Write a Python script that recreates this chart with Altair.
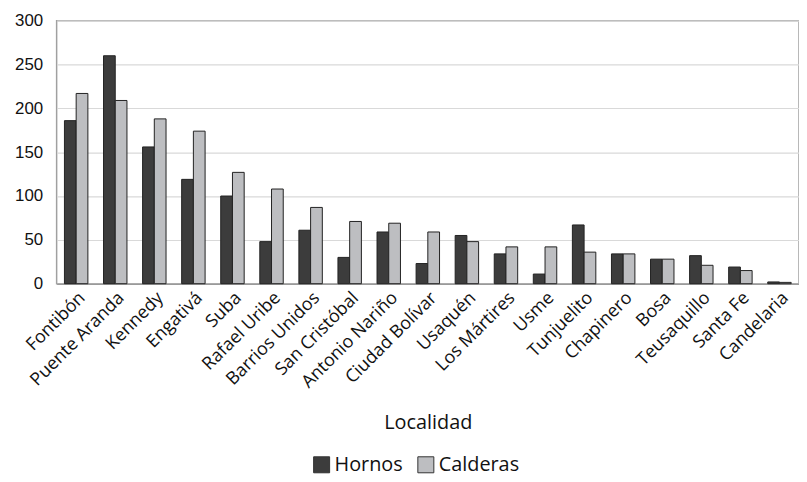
import altair as alt
import pandas as pd

categories = ["Fontibón", "Puente Aranda", "Kennedy", "Engativá", "Suba", "Rafael Uribe",
              "Barrios Unidos", "San Cristóbal", "Antonio Nariño", "Ciudad Bolívar", "Usaquén",
              "Los Mártires", "Usme", "Tunjuelito", "Chapinero", "Bosa", "Teusaquillo",
              "Santa Fe", "Candelaria"]
hornos = [186, 260, 156, 119, 100, 48, 61, 30, 59, 23, 55, 34, 11, 67, 34, 28, 32, 19, 2]
calderas = [217, 209, 188, 174, 127, 108, 87, 71, 69, 59, 48, 42, 42, 36, 34, 28, 21, 15, 1.5]
series = ["Hornos", "Calderas"]
y_ticks = [0, 50, 100, 150, 200, 250, 300]

rows = []
for c, h, k in zip(categories, hornos, calderas):
    rows.append({"Localidad": c, "Tipo": series[0], "Valor": h})
    rows.append({"Localidad": c, "Tipo": series[1], "Valor": k})
df = pd.DataFrame(rows)

chart = alt.Chart(df).mark_bar(stroke="#222222", strokeWidth=1).encode(
    x=alt.X("Localidad:N", sort=categories, title="Localidad",
            scale=alt.Scale(paddingInner=0.4, paddingOuter=0.2),
            axis=alt.Axis(labelAngle=-45, labelFont="Open Sans", labelFontSize=18,
                          labelColor="#111111", ticks=False, labelPadding=5,
                          domainColor="#9a9a9a", domainWidth=1.5,
                          titleFont="Open Sans", titleFontSize=20, titleFontWeight="normal",
                          titleColor="#111111", titleY=140, titleBaseline="middle")),
    xOffset=alt.XOffset("Tipo:N", sort=series, scale=alt.Scale(paddingInner=0, paddingOuter=0)),
    y=alt.Y("Valor:Q", title=None,
            scale=alt.Scale(domain=[0, 300], nice=False),
            axis=alt.Axis(values=y_ticks, labelFont="Liberation Sans", labelFontSize=17,
                          labelColor="#111111", ticks=False, labelPadding=14, domain=False,
                          gridColor="#d9d9d9", gridWidth=1.2)),
    color=alt.Color("Tipo:N", sort=series,
                    scale=alt.Scale(domain=series, range=["#3c3c3c", "#bdbec1"]),
                    legend=alt.Legend(title=None, orient="none", legendX=257, legendY=437,
                                      direction="horizontal", symbolType="square",
                                      symbolSize=260, symbolStrokeColor="#333333",
                                      symbolStrokeWidth=1, labelFont="Open Sans",
                                      labelFontSize=20, labelColor="#111111",
                                      labelOffset=3, columnPadding=12)),
).properties(
    width=748, height=265,
    autosize=alt.AutoSizeParams(type="none"),
    padding={"left": 49, "top": 11, "right": 0, "bottom": 196},
).configure_view(stroke="#a0a0a0", strokeWidth=1.5)

chart.save("out.html", embed_options={"renderer": "svg", "actions": False})
